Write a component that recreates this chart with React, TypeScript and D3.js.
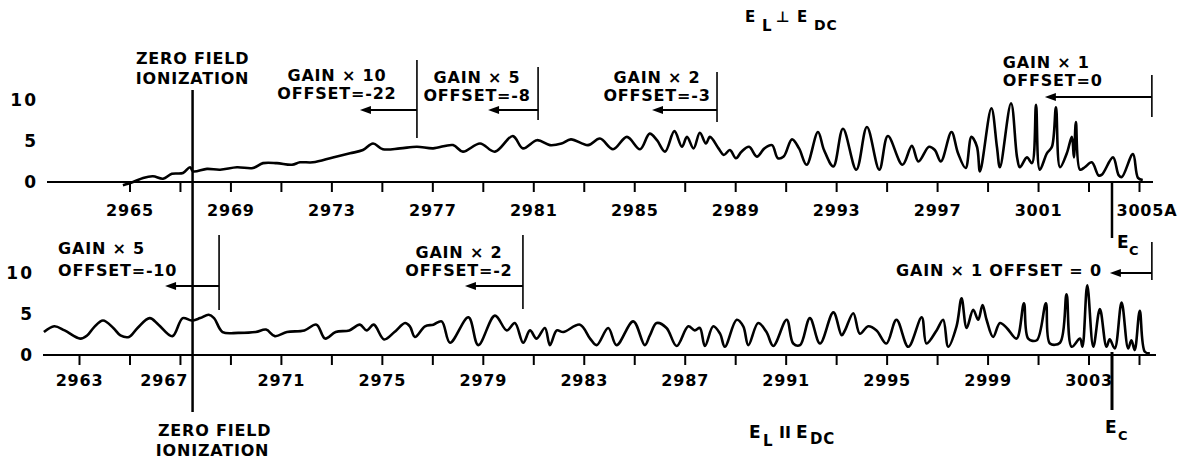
import * as d3 from "d3";
import { useEffect, useRef } from "react";

// wavelength (A) / relative intensity
const topTrace: [number, number][] = [
  [2964.74, -0.4], [2965.14, 0], [2965.54, 0.5], [2965.93, 0.7], [2966.33, 0.4], [2966.68, 1.0],
  [2967.12, 1.1], [2967.4, 1.8], [2967.52, 1.3], [2968.07, 1.6], [2968.59, 1.5], [2969.26, 1.8],
  [2969.89, 1.7], [2970.29, 2.3], [2970.84, 2.3], [2971.44, 2.1], [2971.76, 2.4], [2972.27, 2.4],
  [2973.06, 3.0], [2973.74, 3.5], [2974.25, 3.9], [2974.65, 4.7], [2975.04, 4.0], [2975.72, 4.1],
  [2976.39, 4.3], [2977.03, 4.1], [2977.82, 4.5], [2978.21, 3.7], [2978.89, 4.7], [2979.48, 3.7],
  [2980.19, 5.6], [2980.59, 4.1], [2981.15, 5.1], [2981.66, 4.5], [2982.12, 4.7], [2982.49, 5.2],
  [2983.17, 4.5], [2983.64, 5.3], [2984.16, 4.0], [2984.71, 5.5], [2985.23, 4.0], [2985.61, 5.9],
  [2985.9, 5.1], [2986.22, 3.7], [2986.59, 6.2], [2986.89, 4.3], [2987.09, 5.5], [2987.35, 4.1],
  [2987.6, 6.0], [2987.84, 4.7], [2988.0, 5.5], [2988.34, 4.1], [2988.55, 3.3], [2988.79, 3.9],
  [2989.03, 2.9], [2989.25, 3.7], [2989.55, 4.3], [2989.86, 3.1], [2990.16, 4.1], [2990.46, 4.5],
  [2990.69, 2.9], [2990.92, 3.1], [2991.25, 5.2], [2991.53, 4.1], [2991.83, 2.1], [2992.28, 6.1],
  [2992.52, 3.9], [2992.89, 1.9], [2993.27, 6.5], [2993.8, 1.5], [2994.22, 6.7], [2994.71, 1.5],
  [2995.05, 5.6], [2995.63, 2.1], [2996.0, 4.4], [2996.26, 2.5], [2996.68, 4.3], [2996.91, 3.9],
  [2997.15, 2.5], [2997.57, 6.1], [2997.83, 3.5], [2998.13, 1.7], [2998.36, 5.5], [2998.58, 4.3],
  [2998.7, 1.3], [2999.15, 9.0], [2999.37, 4.3], [2999.49, 1.8], [2999.93, 9.6], [3000.17, 3.0],
  [3000.28, 1.8], [3000.56, 3.0], [3000.76, 2.3], [3000.92, 9.4], [3001.07, 1.5], [3001.35, 3.5],
  [3001.55, 4.3], [3001.71, 9.1], [3001.87, 1.8], [3002.14, 3.5], [3002.34, 5.5], [3002.42, 3.0],
  [3002.5, 7.3], [3002.66, 1.5], [3002.85, 1.8], [3003.13, 2.4], [3003.4, 0.8], [3003.53, 0.9],
  [3003.97, 3.0], [3004.2, 0.8], [3004.32, 0.6], [3004.76, 3.4], [3004.96, 0.5], [3005.15, 0.25],
];

const bottomTrace: [number, number][] = [
  [2961.61, 2.8], [2962.02, 3.5], [2962.43, 3.0], [2963.05, 2.0], [2963.33, 2.4], [2963.6, 3.4],
  [2963.95, 4.2], [2964.36, 3.3], [2964.64, 2.4], [2964.98, 2.2], [2965.32, 3.3], [2965.8, 4.5],
  [2966.15, 3.7], [2966.7, 2.3], [2967.11, 4.5], [2967.46, 4.2], [2967.8, 4.5], [2968.14, 4.9],
  [2968.35, 4.5], [2968.69, 2.8], [2969.31, 2.7], [2970.0, 2.8], [2970.41, 3.1], [2970.76, 2.3],
  [2971.24, 2.8], [2971.93, 3.0], [2972.41, 3.7], [2972.75, 2.0], [2973.17, 2.8], [2973.71, 3.0],
  [2974.13, 3.7], [2974.4, 3.0], [2974.68, 3.7], [2975.09, 1.9], [2975.5, 2.8], [2975.92, 3.9],
  [2976.11, 3.5], [2976.31, 2.2], [2976.71, 3.5], [2977.04, 3.7], [2977.37, 4.1], [2977.7, 1.5],
  [2978.43, 4.6], [2978.82, 1.2], [2979.48, 4.8], [2979.95, 3.0], [2980.27, 3.9], [2980.6, 1.5],
  [2980.87, 3.0], [2981.13, 2.0], [2981.46, 3.3], [2981.66, 1.2], [2981.93, 3.0], [2982.19, 2.8],
  [2982.85, 3.7], [2983.25, 2.0], [2983.51, 1.2], [2983.97, 3.3], [2984.3, 1.2], [2984.96, 4.1],
  [2985.42, 1.2], [2985.62, 2.4], [2985.89, 3.9], [2986.28, 3.3], [2986.68, 1.1], [2987.14, 3.5],
  [2987.4, 3.0], [2987.6, 3.3], [2987.8, 1.1], [2988.13, 3.5], [2988.4, 2.6], [2988.59, 1.0],
  [2989.06, 4.3], [2989.32, 3.5], [2989.52, 1.2], [2989.91, 3.9], [2990.24, 2.8], [2990.51, 1.1],
  [2991.04, 4.3], [2991.3, 1.4], [2991.57, 1.2], [2991.96, 4.5], [2992.36, 1.4], [2992.89, 5.2],
  [2993.22, 2.4], [2993.35, 3.0], [2993.68, 5.1], [2993.94, 2.6], [2994.27, 3.5], [2994.6, 3.0],
  [2994.99, 1.4], [2995.39, 4.3], [2995.86, 1.0], [2996.39, 4.6], [2996.58, 1.4], [2996.98, 3.0],
  [2997.24, 4.3], [2997.44, 1.0], [2997.77, 3.5], [2997.97, 6.9], [2998.17, 3.3], [2998.43, 5.5],
  [2998.63, 4.3], [2998.8, 6.1], [2998.96, 4.3], [2999.22, 2.2], [2999.49, 3.9], [2999.76, 3.3],
  [3000.15, 2.0], [3000.44, 6.3], [3000.61, 2.0], [3000.95, 1.8], [3001.31, 6.3], [3001.47, 1.4],
  [3001.87, 1.5], [3002.13, 7.4], [3002.33, 1.0], [3002.66, 2.0], [3002.76, 1.0], [3002.95, 8.5],
  [3003.19, 1.0], [3003.45, 5.6], [3003.71, 1.0], [3003.84, 1.9], [3004.04, 0.8], [3004.31, 6.4],
  [3004.57, 0.8], [3004.7, 1.8], [3004.83, 0.6], [3005.03, 5.4], [3005.23, 0.4], [3005.43, 0.2],
];

const topTicks = d3.range(2965, 3006, 2);
const topTickLabels = [2965, 2969, 2973, 2977, 2981, 2985, 2989, 2993, 2997, 3001, 3005];
const bottomTicks = d3.range(2963, 3006, 2);
const bottomTickLabels = [2963, 2967, 2971, 2975, 2979, 2983, 2987, 2991, 2995, 2999, 3003];
const yTicks = [0, 5, 10];

const zeroFieldLambda = 2967.5;
const ecLambda = 3003.93;

// gain segments: the bar marks where the setting starts (scan runs right to left)
const topGains = [
  { gain: 10, offset: "-22", edge: 2976.39 },
  { gain: 5, offset: "-8", edge: 2981.19 },
  { gain: 2, offset: "-3", edge: 2988.28 },
  { gain: 1, offset: "0", edge: 3005.51 },
];
const bottomGains = [
  { gain: 5, offset: "-10", edge: 2968.55 },
  { gain: 2, offset: "-2", edge: 2980.59 },
  { gain: 1, offset: "0", edge: 3005.51 },
];

const W = 1187;
const H = 461;
const FONT = "'DejaVu Sans', sans-serif";

const x = d3.scaleLinear().domain([2963, 3005]).range([79, 1139]);
const yTop = d3.scaleLinear().domain([0, 10]).range([182, 100]);
const yBot = d3.scaleLinear().domain([0, 10]).range([355, 273]);

// per-annotation layout (pixels relative to the bar)
const topLayout = [
  { tx: -80, anchor: "middle", bar: [60, 138], tip: -57, l1: 75, l2: 93, arrowY: 110 },
  { tx: -61, anchor: "middle", bar: [67, 120], tip: -50, l1: 77, l2: 95, arrowY: 110 },
  { tx: -60, anchor: "middle", bar: [72, 122], tip: -65, l1: 77, l2: 95, arrowY: 110 },
  { tx: -149, anchor: "start", bar: [75, 117], tip: -107, l1: 62, l2: 80, arrowY: 97 },
];
const bottomLayout = [
  { tx: -161, anchor: "start", bar: [235, 310], tip: -54, l1: 248, l2: 270, arrowY: 286 },
  { tx: -64, anchor: "middle", bar: [235, 309], tip: -58, l1: 252, l2: 270, arrowY: 286 },
];

function Arrow({ x1, x2, y }: { x1: number; x2: number; y: number }) {
  return (
    <g>
      <line x1={x1} x2={x2 + 8} y1={y} y2={y} stroke="#000" strokeWidth={2} />
      <path d={`M${x2},${y} L${x2 + 11},${y - 4} L${x2 + 11},${y + 4} Z`} fill="#000" />
    </g>
  );
}

export default function App() {
  const svgRef = useRef<SVGSVGElement>(null);

  const line = d3
    .line<[number, number]>()
    .x((d) => x(d[0]))
    .curve(d3.curveCatmullRom.alpha(0.5));

  useEffect(() => {
    const svg = d3.select(svgRef.current);

    const styleAxis = (g: any) => {
      g.select(".domain").remove();
      g.selectAll(".tick line").attr("stroke-width", 2);
      g.selectAll("text")
        .attr("font-family", FONT)
        .attr("font-weight", "bold")
        .attr("font-size", 16)
        .attr("letter-spacing", 0.8)
        .attr("fill", "#000");
    };

    const gt = svg.select<SVGGElement>(".x-top");
    gt.selectAll("*").remove();
    gt.call(
      d3
        .axisBottom(x)
        .tickValues(topTicks)
        .tickSize(10)
        .tickPadding(13)
        .tickFormat((d) => (topTickLabels.includes(+d) ? (+d === 3005 ? "3005A" : String(d)) : ""))
    );
    styleAxis(gt);
    gt.selectAll<SVGTextElement, number>("text")
      .filter((d) => d === 3005)
      .attr("text-anchor", "start")
      .attr("x", x(ecLambda) - x(3005) + 4);

    const gb = svg.select<SVGGElement>(".x-bot");
    gb.selectAll("*").remove();
    gb.call(
      d3
        .axisBottom(x)
        .tickValues(bottomTicks)
        .tickSize(10)
        .tickPadding(10)
        .tickFormat((d) => (bottomTickLabels.includes(+d) ? String(d) : ""))
    );
    styleAxis(gb);
    gb.selectAll<SVGTextElement, number>("text")
      .filter((d) => d === 2967)
      .attr("text-anchor", "end")
      .attr("x", x(zeroFieldLambda) - x(2967) - 5);

    const yt = svg.select<SVGGElement>(".y-top");
    yt.selectAll("*").remove();
    yt.call(d3.axisLeft(yTop).tickValues(yTicks).tickSize(0).tickPadding(0));
    styleAxis(yt);
    yt.selectAll("text").attr("font-size", 17).attr("letter-spacing", 2);

    const yb = svg.select<SVGGElement>(".y-bot");
    yb.selectAll("*").remove();
    yb.call(d3.axisLeft(yBot).tickValues(yTicks).tickSize(0).tickPadding(0));
    styleAxis(yb);
    yb.selectAll("text").attr("font-size", 17).attr("letter-spacing", 2);
  }, []);

  const txt = {
    fontFamily: FONT,
    fontWeight: "bold",
    fontSize: 16,
    letterSpacing: 0.8,
    fill: "#000",
  } as const;
  const xz = x(zeroFieldLambda);
  const xe = x(ecLambda);
  const g1 = bottomGains[2];
  const b1 = x(g1.edge);

  return (
    <svg
      ref={svgRef}
      width={W}
      height={H}
      style={{ position: "absolute", left: 0, top: 0, background: "#fff" }}
    >
      <rect width={W} height={H} fill="#fff" />

      {/* baselines */}
      <line x1={47} x2={1153} y1={yTop(0)} y2={yTop(0)} stroke="#000" strokeWidth={2} />
      <line x1={43} x2={1156} y1={yBot(0)} y2={yBot(0)} stroke="#000" strokeWidth={2} />
      <g className="x-top" transform={`translate(0,${yTop(0)})`} />
      <g className="x-bot" transform={`translate(0,${yBot(0)})`} />
      <g className="y-top" transform="translate(38,0)" />
      <g className="y-bot" transform="translate(34,0)" />

      {/* traces */}
      <path
        d={line.y((d) => yTop(d[1]))(topTrace) || ""}
        fill="none"
        stroke="#000"
        strokeWidth={2.6}
        strokeLinejoin="round"
      />
      <path
        d={line.y((d) => yBot(d[1]))(bottomTrace) || ""}
        fill="none"
        stroke="#000"
        strokeWidth={2.6}
        strokeLinejoin="round"
      />

      {/* zero field ionization */}
      <line x1={xz} x2={xz} y1={90} y2={412} stroke="#000" strokeWidth={2.5} />
      <text x={xz} y={64} textAnchor="middle" {...txt}>ZERO FIELD</text>
      <text x={xz} y={84} textAnchor="middle" {...txt}>IONIZATION</text>
      <text x={xz + 22} y={436} textAnchor="middle" {...txt}>ZERO FIELD</text>
      <text x={xz + 20} y={456} textAnchor="middle" {...txt}>IONIZATION</text>

      {/* E_C markers */}
      <line x1={xe} x2={xe} y1={yTop(0)} y2={238} stroke="#000" strokeWidth={2.5} />
      <text x={xe + 5} y={248} {...txt} fontSize={17}>E</text>
      <text x={xe + 17} y={255} {...txt} fontSize={13}>C</text>
      <line x1={xe} x2={xe} y1={yBot(0) - 3} y2={410} stroke="#000" strokeWidth={3} />
      <text x={xe - 7} y={433} {...txt} fontSize={17}>E</text>
      <text x={xe + 6} y={440} {...txt} fontSize={13}>C</text>

      {/* titles */}
      <text x={745} y={22} {...txt} fontSize={15}>E</text>
      <text x={762} y={31} {...txt} fontSize={15}>L</text>
      <text x={776} y={22} {...txt} fontSize={15}>⊥</text>
      <text x={797} y={22} {...txt} fontSize={15}>E</text>
      <text x={814} y={30} {...txt} fontSize={14}>DC</text>

      <text x={749} y={438} {...txt} fontSize={17}>E</text>
      <text x={763} y={446} {...txt} fontSize={15}>L</text>
      <text x={779} y={438} {...txt} fontSize={16} letterSpacing={0}>II</text>
      <text x={796} y={438} {...txt} fontSize={17}>E</text>
      <text x={810} y={444} {...txt} fontSize={15}>DC</text>

      {/* gain annotations, top */}
      {topGains.map((g, i) => {
        const L = topLayout[i];
        const bx = x(g.edge);
        return (
          <g key={"t" + i}>
            <line x1={bx} x2={bx} y1={L.bar[0]} y2={L.bar[1]} stroke="#000" strokeWidth={1.6} />
            <Arrow x1={bx} x2={bx + L.tip} y={L.arrowY} />
            <text x={bx + L.tx} y={L.l1 + 6} textAnchor={L.anchor} {...txt}>{`GAIN × ${g.gain}`}</text>
            <text x={bx + L.tx} y={L.l2 + 6} textAnchor={L.anchor} {...txt}>{`OFFSET=${g.offset}`}</text>
          </g>
        );
      })}

      {/* gain annotations, bottom */}
      {bottomGains.slice(0, 2).map((g, i) => {
        const L = bottomLayout[i];
        const bx = x(g.edge);
        return (
          <g key={"b" + i}>
            <line x1={bx} x2={bx} y1={L.bar[0]} y2={L.bar[1]} stroke="#000" strokeWidth={1.6} />
            <Arrow x1={bx} x2={bx + L.tip} y={L.arrowY} />
            <text x={bx + L.tx} y={L.l1 + 6} textAnchor={L.anchor} {...txt}>{`GAIN × ${g.gain}`}</text>
            <text x={bx + L.tx} y={L.l2 + 6} textAnchor={L.anchor} {...txt}>{`OFFSET=${g.offset}`}</text>
          </g>
        );
      })}
      <line x1={b1} x2={b1} y1={242} y2={280} stroke="#000" strokeWidth={1.6} />
      <Arrow x1={b1} x2={b1 - 42} y={273} />
      <text x={b1 - 50} y={276} textAnchor="end" {...txt}>{`GAIN × ${g1.gain}  OFFSET = ${g1.offset}`}</text>
    </svg>
  );
}
